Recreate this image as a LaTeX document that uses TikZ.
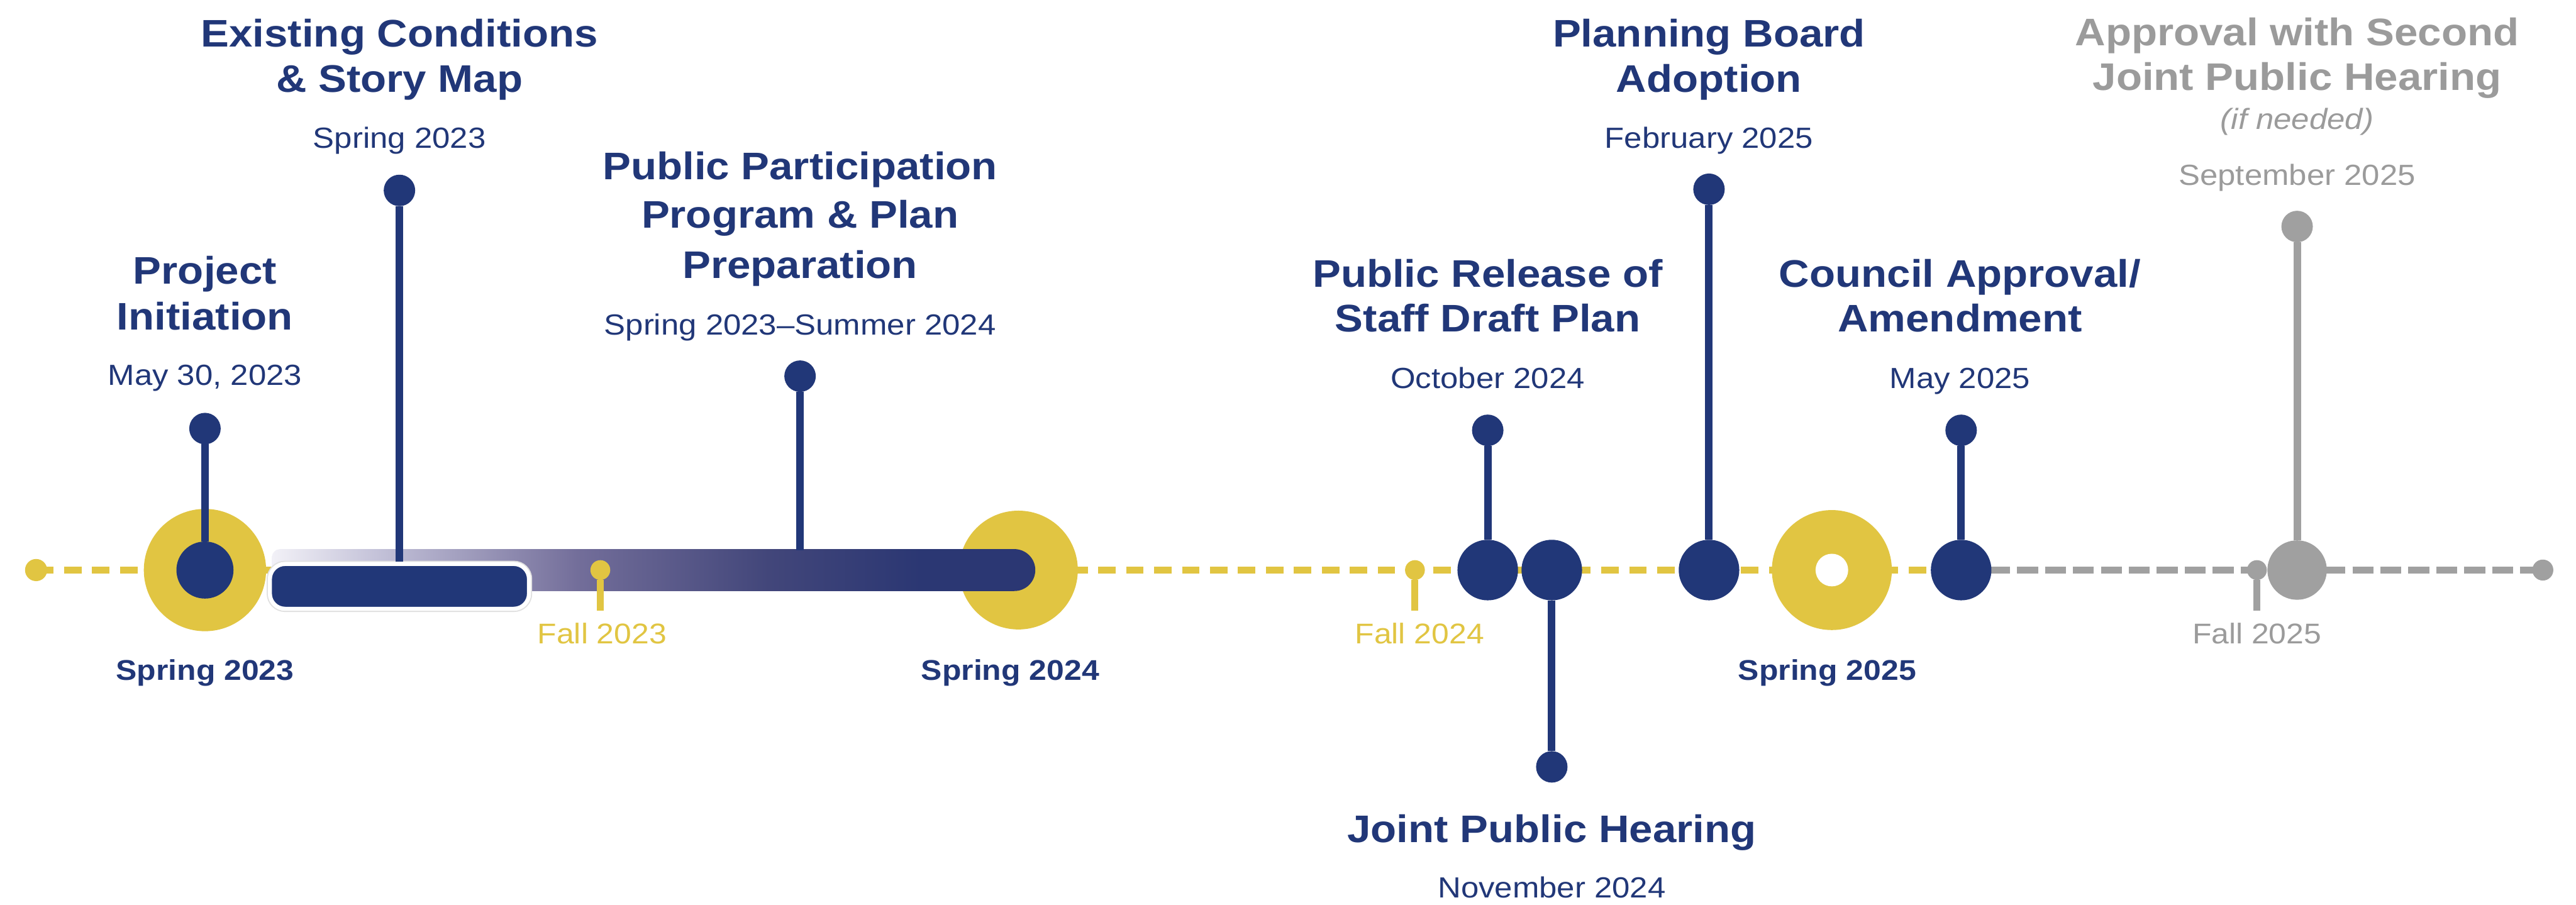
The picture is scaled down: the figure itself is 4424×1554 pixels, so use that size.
\documentclass[tikz,border=0pt]{standalone}
\usepackage{fontspec}
\setmainfont{Liberation Sans}[FakeStretch=1.1]

\definecolor{navy}{RGB}{33,55,120}
\definecolor{gold}{RGB}{225,197,66}
\definecolor{ash}{RGB}{160,160,160}
\definecolor{ashtext}{RGB}{155,155,155}
\definecolor{fadeA}{RGB}{242,241,247}
\definecolor{fadeB}{RGB}{192,190,214}
\definecolor{fadeC}{RGB}{115,110,154}
\definecolor{fadeD}{RGB}{66,70,122}
\definecolor{fadeE}{RGB}{43,55,115}

% left-to-right fade of the long participation bar (box mapped to 25bp..75bp)
\pgfdeclarehorizontalshading{barfade}{100bp}{color(0bp)=(fadeA); color(25bp)=(fadeA); color(32.5bp)=(fadeB); color(45bp)=(fadeC); color(57.5bp)=(fadeD); color(67.5bp)=(fadeE); color(100bp)=(fadeE)}

\begin{document}
\begin{tikzpicture}[x=1pt,y=-1pt,
  ttl/.style={anchor=base, inner sep=0pt, text=navy, font=\fontsize{66}{79}\selectfont\bfseries},
  dte/.style={anchor=base, inner sep=0pt, text=navy, font=\fontsize{50}{60}\selectfont},
  note/.style={anchor=base, inner sep=0pt, text=ashtext, font=\fontsize{50}{60}\selectfont\itshape},
  season/.style={anchor=base, inner sep=0pt, text=navy, font=\fontsize{49}{59}\selectfont\bfseries},
  fall/.style={anchor=base, inner sep=0pt, text=gold, font=\fontsize{49}{59}\selectfont},
  disc/.style={circle, inner sep=0pt, outer sep=0pt, minimum size=#1},
  pin/.style={disc=54pt, fill=navy},
  stem/.style={line width=13pt, navy},
  fallstem/.style={line width=12pt, gold},
  yline/.style={gold, line width=11pt, dash pattern=on 30pt off 18pt},
  gline/.style={ash, line width=11pt, dash pattern=on 36pt off 12pt}]

\fill[white] (0,0) rectangle (4424,1554);
\useasboundingbox (0,0) rectangle (4424,1554);

% dashed time axis
\coordinate (axisL) at (62,979);
\coordinate (axisM) at (3368,979);
\coordinate (axisR) at (4367,979);
\draw[yline] (axisL) -- (axisM);
\draw[gline] (axisM) -- (axisR);
\node[disc=38pt, fill=gold] (lend) at (62,979) {};
\node[disc=36pt, fill=ash] (rend) at (4367,979) {};

% season rings
\node[disc=210pt, fill=gold] (s23) at (352,979) {};
\node[disc=98pt, fill=navy] (pic) at (352,979) {};
\node[disc=204pt, fill=gold] (s24) at (1749,979) {};
\node[disc=206pt, fill=gold] (s25) at (3146,979) {};
\node[disc=56pt, fill=white] (s25h) at (3146,979) {};

% participation bar (fades in from the left)
\shade[shading=barfade] (1742,943) [rounded corners=14pt] -- (467,943) -- (467,1015) [sharp corners] -- (1742,1015) arc[start angle=90, end angle=-90, radius=36] -- cycle;
\coordinate (ppb) at (1374,945);

% existing-conditions bar
\node[rounded corners=26pt, fill=navy, draw=white, line width=7pt, minimum width=445pt, minimum height=77pt, inner sep=0pt,
      preaction={draw=black!12, line width=11pt}] (ecb) at (686,1007) {};

% fall ticks
\node[disc=34pt, fill=gold] (f23) at (1031,979) {};
\coordinate (f23e) at (1031,1049);
\draw[fallstem] (f23) -- (f23e);
\node[disc=34pt, fill=gold] (f24) at (2430,979) {};
\coordinate (f24e) at (2430,1049);
\draw[fallstem] (f24) -- (f24e);
\node[disc=34pt, fill=ash] (f25) at (3876,979) {};
\coordinate (f25e) at (3876,1049);
\draw[fallstem, ash] (f25) -- (f25e);

% milestone discs
\node[disc=104pt, fill=navy] (prc) at (2555,979) {};
\node[disc=104pt, fill=navy] (jhc) at (2665,979) {};
\node[disc=104pt, fill=navy] (pbc) at (2935,979) {};
\node[disc=104pt, fill=navy] (cac) at (3368,979) {};
\node[disc=102pt, fill=ash] (apc) at (3945,979) {};

% pins and stems
\node[pin] (pid) at (352,736) {};
\draw[stem] (pic) -- (pid);
\node[pin] (ecd) at (686,327) {};
\draw[stem] (ecb) -- (ecd);
\node[pin] (ppd) at (1374,646) {};
\draw[stem] (ppb) -- (ppd);
\node[pin] (prd) at (2555,739) {};
\draw[stem] (prc) -- (prd);
\node[pin] (jhd) at (2665,1317) {};
\draw[stem] (jhc) -- (jhd);
\node[pin] (pbd) at (2935,325) {};
\draw[stem] (pbc) -- (pbd);
\node[pin] (cad) at (3368,739) {};
\draw[stem] (cac) -- (cad);
\node[pin, fill=ash] (apd) at (3945,389) {};
\draw[stem, ash] (apc) -- (apd);

% milestone labels
\node[ttl] (pi1) at (352,488) {Project};
\node[ttl] (pi2) at (352,567) {Initiation};
\node[dte] (pidate) at (352,662) {May 30, 2023};

\node[ttl] (ec1) at (686,80) {Existing Conditions};
\node[ttl] (ec2) at (686,158) {\& Story Map};
\node[dte] (ecdate) at (686,254) {Spring 2023};

\node[ttl] (pp1) at (1374,308) {Public Participation};
\node[ttl] (pp2) at (1374,392) {Program \& Plan};
\node[ttl] (pp3) at (1374,478) {Preparation};
\node[dte] (ppdate) at (1374,575) {Spring 2023--Summer 2024};

\node[ttl] (pr1) at (2555,493) {Public Release of};
\node[ttl] (pr2) at (2555,570) {Staff Draft Plan};
\node[dte] (prdate) at (2555,667) {October 2024};

\node[ttl] (jh1) at (2665,1447) {Joint Public Hearing};
\node[dte] (jhdate) at (2665,1542) {November 2024};

\node[ttl] (pb1) at (2935,80) {Planning Board};
\node[ttl] (pb2) at (2935,158) {Adoption};
\node[dte] (pbdate) at (2935,254) {February 2025};

\node[ttl] (ca1) at (3366,493) {Council Approval/};
\node[ttl] (ca2) at (3366,570) {Amendment};
\node[dte] (cadate) at (3366,667) {May 2025};

\node[ttl, text=ashtext] (ap1) at (3945,78) {Approval with Second};
\node[ttl, text=ashtext] (ap2) at (3945,155) {Joint Public Hearing};
\node[note] (ap3) at (3945,222) {(if needed)};
\node[dte, text=ashtext] (apdate) at (3945,318) {September 2025};

% axis labels
\node[season] (s23l) at (352,1168) {Spring 2023};
\node[season] (s24l) at (1735,1168) {Spring 2024};
\node[season] (s25l) at (3138,1168) {Spring 2025};
\node[fall] (f23l) at (1034,1105) {Fall 2023};
\node[fall] (f24l) at (2438,1105) {Fall 2024};
\node[fall, text=ashtext] (f25l) at (3876,1105) {Fall 2025};

\end{tikzpicture}
\end{document}
